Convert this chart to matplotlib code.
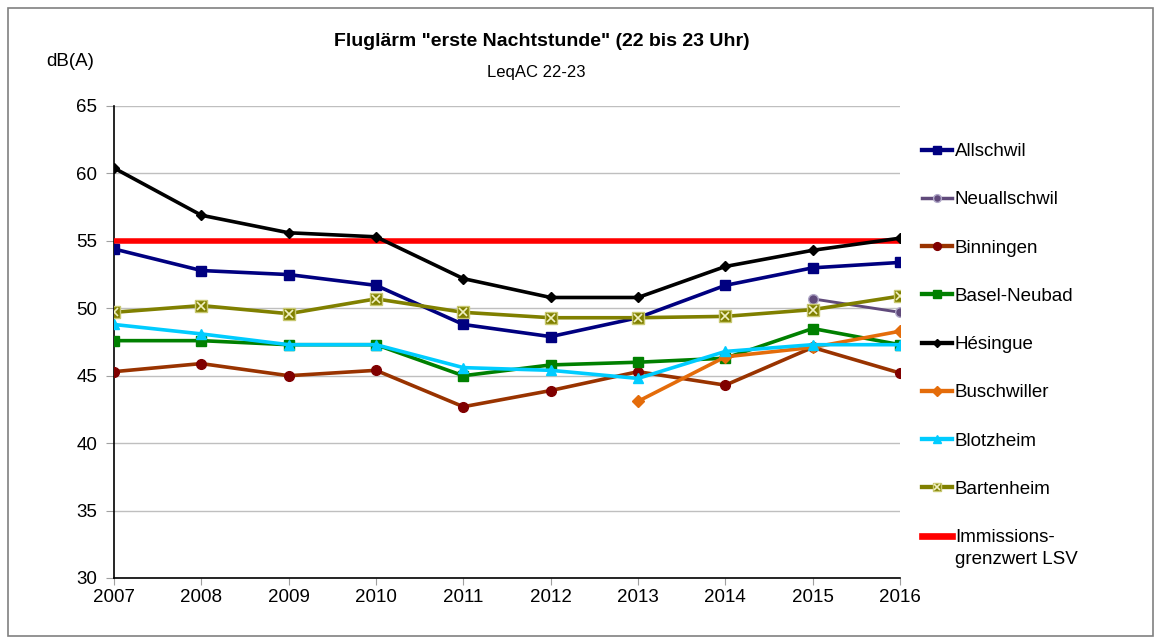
import matplotlib
matplotlib.use("Agg")
import matplotlib.pyplot as plt
import matplotlib.patches as patches
from matplotlib.legend_handler import HandlerTuple
from matplotlib.lines import Line2D

plt.rcParams['font.family'] = ['Liberation Sans', 'DejaVu Sans']

years = [2007, 2008, 2009, 2010, 2011, 2012, 2013, 2014, 2015, 2016]
allschwil = [54.4, 52.8, 52.5, 51.7, 48.8, 47.9, 49.3, 51.7, 53.0, 53.4]
neuallschwil = [None] * 8 + [50.7, 49.7]
binningen = [45.3, 45.9, 45.0, 45.4, 42.7, 43.9, 45.3, 44.3, 47.1, 45.2]
basel_neubad = [47.6, 47.6, 47.3, 47.3, 45.0, 45.8, 46.0, 46.3, 48.5, 47.3]
hesingue = [60.4, 56.9, 55.6, 55.3, 52.2, 50.8, 50.8, 53.1, 54.3, 55.2]
buschwiller = [None] * 6 + [43.1, 46.4, 47.1, 48.3]
blotzheim = [48.8, 48.1, 47.3, 47.3, 45.6, 45.4, 44.8, 46.8, 47.3, 47.3]
bartenheim = [49.7, 50.2, 49.6, 50.7, 49.7, 49.3, 49.3, 49.4, 49.9, 50.9]
grenzwert = 55


def xy(vals):
    pts = [(y, v) for y, v in zip(years, vals) if v is not None]
    return [p[0] for p in pts], [p[1] for p in pts]


fig = plt.figure(figsize=(11.61, 6.44), dpi=100)
ax = fig.add_axes([114 / 1161, 1 - 578 / 644, (900 - 114) / 1161, (578 - 106) / 644])

fig.patches.append(patches.Rectangle((8 / 1161, 8 / 644), 1145 / 1161, 628 / 644,
                                     transform=fig.transFigure, fill=False,
                                     edgecolor='#808080', linewidth=1.2))

lw = 2.6

x, y = xy(allschwil)
h1, = ax.plot(x, y, color='#000080', lw=lw, marker='s', ms=7, mfc='#000080', mec='#000080', zorder=5)
x, y = xy(neuallschwil)
h2, = ax.plot(x, y, color='#604A7B', lw=lw * 0.8, marker='o', ms=7, mfc='#604A7B', mec='#B0A8C8', zorder=5)
x, y = xy(binningen)
h3, = ax.plot(x, y, color='#993300', lw=lw, marker='o', ms=7, mfc='#800000', mec='#800000', zorder=5)
x, y = xy(basel_neubad)
h4, = ax.plot(x, y, color='#008000', lw=lw, marker='s', ms=7, mfc='#008000', mec='#008000', zorder=5)
x, y = xy(hesingue)
h5, = ax.plot(x, y, color='black', lw=lw, marker='D', ms=5.5, mfc='black', mec='black', zorder=6)
x, y = xy(buschwiller)
h6, = ax.plot(x, y, color='#E46C0A', lw=lw, marker='D', ms=6, mfc='#E46C0A', mec='#E46C0A', zorder=5)
x, y = xy(blotzheim)
h7, = ax.plot(x, y, color='#00CCFF', lw=lw, marker='^', ms=7.5, mfc='#00CCFF', mec='#00CCFF', zorder=5)
x, y = xy(bartenheim)
h8, = ax.plot(x, y, color='#808000', lw=lw, marker='s', ms=8, mfc='#808000', mec='#C8C870', zorder=5)
ax.plot(x, y, ls='none', marker='x', ms=6, mec='#F0F0C0', mew=1.2, zorder=5.5)
h9, = ax.plot([years[0], years[-1]], [grenzwert, grenzwert], color='#FF0000', lw=4, zorder=4)

h8x = Line2D([], [], ls='none', marker='x', ms=6, mec='#F0F0C0', mew=1.2)

ax.set_xlim(2007, 2016)
ax.set_ylim(30, 65)
ax.set_xticks(years)
ax.set_xticklabels([str(y) for y in years], fontsize=13.5)
ax.set_yticks(range(30, 66, 5))
ax.tick_params(axis='y', labelsize=13.5, length=6, direction='out', pad=6, color='#A0A0A0')
ax.tick_params(axis='x', length=5, direction='out', pad=3, color='#A0A0A0')
ax.grid(axis='y', color='#BFBFBF', lw=1)
ax.set_axisbelow(True)
for s in ['top', 'right']:
    ax.spines[s].set_visible(False)
ax.spines['left'].set_linewidth(1.2)
ax.spines['bottom'].set_linewidth(1.2)

fig.text(542 / 1161, 1 - 42 / 644, 'Fluglärm "erste Nachtstunde" (22 bis 23 Uhr)',
         fontsize=14, fontweight='bold', ha='center', va='center')
fig.text(536 / 1161, 1 - 72 / 644, 'LeqAC 22-23', fontsize=12, ha='center', va='center')
fig.text(70 / 1161, 1 - 62 / 644, 'dB(A)', fontsize=13.5, ha='center', va='center')

labels = ['Allschwil', 'Neuallschwil', 'Binningen', 'Basel-Neubad', 'Hésingue',
          'Buschwiller', 'Blotzheim', 'Bartenheim', 'Immissions-']
leg = fig.legend([h1, h2, h3, h4, h5, h6, h7, (h8, h8x), h9], labels,
                 loc='upper left', bbox_to_anchor=(922 / 1161, 1 - 143 / 644),
                 frameon=False, fontsize=13.5, handlelength=1.6, handletextpad=0.15,
                 labelspacing=1.66, markerscale=0.8, borderpad=0, borderaxespad=0,
                 handler_map={tuple: HandlerTuple(ndivide=1, pad=0)})
for ln in leg.get_lines():
    ln.set_linewidth(ln.get_linewidth() * 1.2)
fig.text(955 / 1161, 1 - 560 / 644, 'grenzwert LSV', fontsize=13.5, ha='left', va='center')

fig.savefig('out.png', dpi=100)
